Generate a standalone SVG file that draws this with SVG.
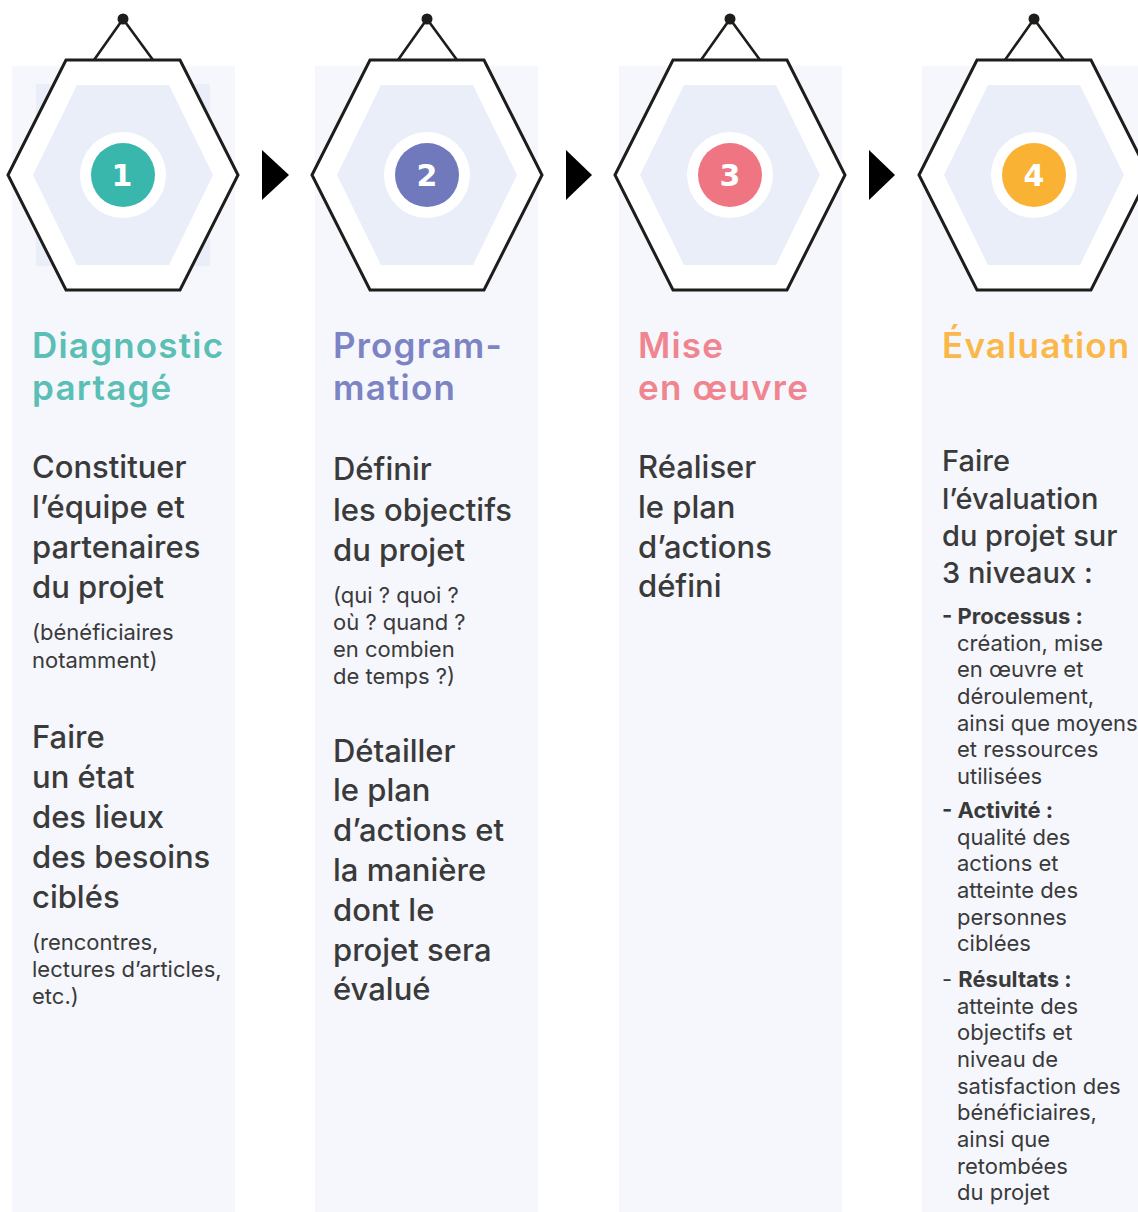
<svg xmlns="http://www.w3.org/2000/svg" width="1138" height="1212" viewBox="0 0 1138 1212">
<defs>
<style>
.colbg{fill:#f5f7fd}
.outer{fill:#ffffff;stroke:#1d1d1b;stroke-width:3;stroke-linejoin:miter}
.inner{fill:#e9eef9}
.hang{fill:none;stroke:#1d1d1b;stroke-width:2.6}
.dot{fill:#1d1d1b}
.ring{fill:#ffffff}
.num{font-family:"DejaVu Sans",sans-serif;font-weight:bold;font-size:30px;fill:#ffffff;text-anchor:middle}
.title{font-family:Inter,"Noto Sans",sans-serif;font-weight:600;font-size:35px;letter-spacing:1.2px}
.body{font-family:Inter,"Noto Sans",sans-serif;font-weight:500;font-size:31px;fill:#3a3a3a}
.body4{font-family:Inter,"Noto Sans",sans-serif;font-weight:500;font-size:29px;fill:#3a3a3a}
.small{font-family:Inter,"Noto Sans",sans-serif;font-weight:400;font-size:22px;fill:#3a3a3a}
.b{font-weight:700}
.arrow{fill:#000000}
</style>
<polygon id="hexo" points="-115,0 -57,-115 57,-115 115,0 57,115 -57,115"/>
<polygon id="hexi" points="-90,0 -46,-90 46,-90 90,0 46,90 -46,90"/>
</defs>
<rect width="1138" height="1212" fill="#ffffff"/>

<g id="step1">
<rect class="colbg" x="12" y="66" width="223" height="1146"/>
<rect class="inner" x="36" y="84" width="174" height="182"/>
<path class="hang" d="M94,60 L123,19 L153,60"/>
<circle class="dot" cx="123" cy="19" r="5.5"/>
<use href="#hexo" class="outer" x="123" y="175"/>
<use href="#hexi" class="inner" x="123" y="175"/>
<circle class="ring" cx="123" cy="175" r="43"/>
<circle cx="123" cy="175" r="32" fill="#3ab7ac"/>
<text class="num" x="122" y="186">1</text>
<text class="title" fill="#5bbfb5"><tspan x="32" y="358">Diagnostic</tspan><tspan x="32" y="400">partagé</tspan></text>
<text class="body"><tspan x="32" y="478">Constituer</tspan><tspan x="32" y="518">l’équipe et</tspan><tspan x="32" y="558">partenaires</tspan><tspan x="32" y="598">du projet</tspan></text>
<text class="small"><tspan x="32" y="640">(bénéficiaires</tspan><tspan x="32" y="668">notamment)</tspan></text>
<text class="body"><tspan x="32" y="748">Faire</tspan><tspan x="32" y="788">un état</tspan><tspan x="32" y="828">des lieux</tspan><tspan x="32" y="868">des besoins</tspan><tspan x="32" y="908">ciblés</tspan></text>
<text class="small"><tspan x="32" y="950">(rencontres,</tspan><tspan x="32" y="977">lectures d’articles,</tspan><tspan x="32" y="1004">etc.)</tspan></text>
</g>

<g id="step2">
<rect class="colbg" x="315" y="66" width="223" height="1146"/>
<path class="hang" d="M398,60 L427,19 L457,60"/>
<circle class="dot" cx="427" cy="19" r="5.5"/>
<use href="#hexo" class="outer" x="427" y="175"/>
<use href="#hexi" class="inner" x="427" y="175"/>
<circle class="ring" cx="427" cy="175" r="43"/>
<circle cx="427" cy="175" r="32" fill="#6f79bb"/>
<text class="num" x="427" y="186">2</text>
<text class="title" fill="#7d84c3"><tspan x="333" y="358">Program-</tspan><tspan x="333" y="400">mation</tspan></text>
<text class="body"><tspan x="333" y="480">Définir</tspan><tspan x="333" y="521">les objectifs</tspan><tspan x="333" y="561">du projet</tspan></text>
<text class="small"><tspan x="333" y="603">(qui ? quoi ?</tspan><tspan x="333" y="630">où ? quand ?</tspan><tspan x="333" y="657">en combien</tspan><tspan x="333" y="684">de temps ?)</tspan></text>
<text class="body"><tspan x="333" y="762">Détailler</tspan><tspan x="333" y="801">le plan</tspan><tspan x="333" y="841">d’actions et</tspan><tspan x="333" y="881">la manière</tspan><tspan x="333" y="921">dont le</tspan><tspan x="333" y="961">projet sera</tspan><tspan x="333" y="1000">évalué</tspan></text>
</g>

<g id="step3">
<rect class="colbg" x="619" y="66" width="223" height="1146"/>
<path class="hang" d="M701,60 L730,19 L760,60"/>
<circle class="dot" cx="730" cy="19" r="5.5"/>
<use href="#hexo" class="outer" x="730" y="175"/>
<use href="#hexi" class="inner" x="730" y="175"/>
<circle class="ring" cx="730" cy="175" r="43"/>
<circle cx="730" cy="175" r="32" fill="#ef7583"/>
<text class="num" x="730" y="186">3</text>
<text class="title" fill="#f08590"><tspan x="638" y="358">Mise</tspan><tspan x="638" y="400">en œuvre</tspan></text>
<text class="body"><tspan x="638" y="478">Réaliser</tspan><tspan x="638" y="518">le plan</tspan><tspan x="638" y="558">d’actions</tspan><tspan x="638" y="597">défini</tspan></text>
</g>

<g id="step4">
<rect class="colbg" x="922" y="66" width="216" height="1146"/>
<path class="hang" d="M1005,60 L1034,19 L1064,60"/>
<circle class="dot" cx="1034" cy="19" r="5.5"/>
<use href="#hexo" class="outer" x="1034" y="175"/>
<use href="#hexi" class="inner" x="1034" y="175"/>
<circle class="ring" cx="1034" cy="175" r="43"/>
<circle cx="1034" cy="175" r="32" fill="#f9b234"/>
<text class="num" x="1034" y="186">4</text>
<text class="title" fill="#fbb84a" x="942" y="358">Évaluation</text>
<text class="body4"><tspan x="942" y="471">Faire</tspan><tspan x="942" y="509">l’évaluation</tspan><tspan x="942" y="546">du projet sur</tspan><tspan x="942" y="583">3 niveaux :</tspan></text>
<text class="small"><tspan x="942" y="624" class="b">- Processus :</tspan><tspan x="957" y="651">création, mise</tspan><tspan x="957" y="677">en œuvre et</tspan><tspan x="957" y="704">déroulement,</tspan><tspan x="957" y="731">ainsi que moyens</tspan><tspan x="957" y="757">et ressources</tspan><tspan x="957" y="784">utilisées</tspan><tspan x="942" y="818" class="b">- Activité :</tspan><tspan x="957" y="845">qualité des</tspan><tspan x="957" y="871">actions et</tspan><tspan x="957" y="898">atteinte des</tspan><tspan x="957" y="925">personnes</tspan><tspan x="957" y="951">ciblées</tspan><tspan x="942" y="987">- </tspan><tspan class="b">Résultats :</tspan><tspan x="957" y="1014">atteinte des</tspan><tspan x="957" y="1040">objectifs et</tspan><tspan x="957" y="1067">niveau de</tspan><tspan x="957" y="1094">satisfaction des</tspan><tspan x="957" y="1120">bénéficiaires,</tspan><tspan x="957" y="1147">ainsi que</tspan><tspan x="957" y="1174">retombées</tspan><tspan x="957" y="1200">du projet</tspan></text>
</g>

<g id="connectors">
<polygon class="arrow" points="262,150 289,175 262,200"/>
<polygon class="arrow" points="566,150 592,175 566,200"/>
<polygon class="arrow" points="869,150 895,175 869,200"/>
</g>
</svg>
